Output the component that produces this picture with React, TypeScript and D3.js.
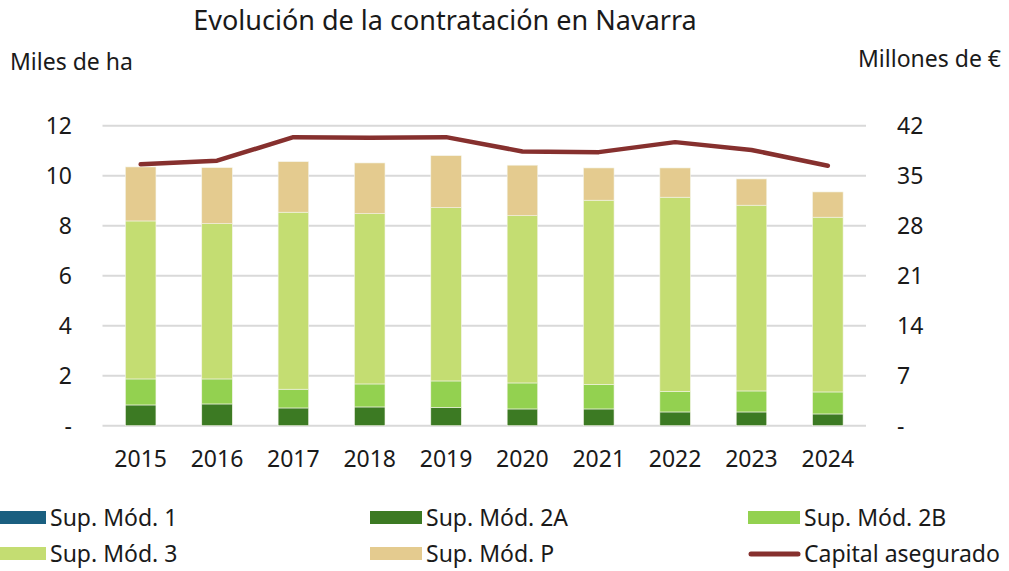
import React from 'react';
import * as d3 from 'd3';

const years = ['2015', '2016', '2017', '2018', '2019', '2020', '2021', '2022', '2023', '2024'];
// stacked values, miles de ha
const mod1 = [0, 0, 0, 0, 0, 0, 0, 0, 0, 0];
const mod2A = [0.83, 0.87, 0.71, 0.75, 0.73, 0.67, 0.67, 0.55, 0.55, 0.47];
const mod2B = [1.04, 1.0, 0.75, 0.92, 1.06, 1.04, 0.98, 0.82, 0.84, 0.88];
const mod3 = [6.32, 6.21, 7.08, 6.81, 6.93, 6.69, 7.37, 7.77, 7.43, 6.99];
const modP = [2.16, 2.24, 2.02, 2.03, 2.08, 2.02, 1.29, 1.17, 1.05, 1.01];
// millones de euros
const capital = [36.6, 37.1, 40.4, 40.3, 40.4, 38.4, 38.3, 39.7, 38.6, 36.4];

const leftTicks = [0, 2, 4, 6, 8, 10, 12];
const rightTicks = [0, 7, 14, 21, 28, 35, 42];

const seriesNames = ['Sup. Mód. 1', 'Sup. Mód. 2A', 'Sup. Mód. 2B', 'Sup. Mód. 3', 'Sup. Mód. P'];
const seriesKeys = ['m1', 'm2A', 'm2B', 'm3', 'mP'];
const colors = ['#1a5f80', '#3c7a23', '#93d150', '#c4dd72', '#e4cb8f'];
const lineColor = '#86302e';
const font = "'Noto Sans', sans-serif";

export default function App() {
  const width = 1009;
  const height = 571;
  const margin = { left: 102.5, right: 143, top: 125.7, bottom: 145.3 };

  const x = d3.scaleBand<string>()
    .domain(years)
    .range([margin.left, width - margin.right])
    .paddingInner(0.6)
    .paddingOuter(0.3);

  const y = d3.scaleLinear().domain([0, 12]).range([height - margin.bottom, margin.top]);
  const y2 = d3.scaleLinear().domain([0, 42]).range([height - margin.bottom, margin.top]);

  const rows = years.map((yr, i) => ({
    year: yr, m1: mod1[i], m2A: mod2A[i], m2B: mod2B[i], m3: mod3[i], mP: modP[i],
  }));
  const stacked = d3.stack<any>().keys(seriesKeys)(rows);

  const line = d3.line<number>()
    .x((_, i) => (x(years[i]) as number) + x.bandwidth() / 2)
    .y(d => y2(d));

  const fmt = (v: number) => (v === 0 ? '-' : String(v));

  const legend = [
    { name: seriesNames[0], color: colors[0], col: 0, row: 0 },
    { name: seriesNames[1], color: colors[1], col: 1, row: 0 },
    { name: seriesNames[2], color: colors[2], col: 2, row: 0 },
    { name: seriesNames[3], color: colors[3], col: 0, row: 1 },
    { name: seriesNames[4], color: colors[4], col: 1, row: 1 },
    { name: 'Capital asegurado', color: lineColor, col: 2, row: 1, isLine: true },
  ];
  const legendX = [-6, 370, 748];
  const legendY = [518, 554];
  const fs = 23;

  return (
    <svg width={width} height={height} style={{ position: 'absolute', left: 0, top: 0, background: '#fff' }}
      fontFamily={font}>
      <text x={445} y={30} textAnchor="middle" fontSize={27} fill="#1a1a1a">
        Evolución de la contratación en Navarra
      </text>
      <text x={10} y={70} fontSize={fs} fill="#1a1a1a">Miles de ha</text>
      <text x={1001} y={67} fontSize={fs} fill="#1a1a1a" textAnchor="end">Millones de €</text>

      {leftTicks.map(t => (
        <g key={t}>
          <line x1={margin.left} x2={width - margin.right} y1={y(t)} y2={y(t)}
            stroke="#d9d9d9" strokeWidth={2} />
          <text x={72} y={y(t)} dy="0.36em" textAnchor="end" fontSize={fs} fill="#1a1a1a">{fmt(t)}</text>
        </g>
      ))}
      {rightTicks.map(t => (
        <text key={t} x={897} y={y2(t)} dy="0.36em" fontSize={fs} fill="#1a1a1a">{fmt(t)}</text>
      ))}

      {stacked.map((s, si) => (
        <g key={s.key} fill={colors[si]}>
          {s.map((d, i) => (
            d[1] - d[0] > 0 ? (
              <rect key={i} x={x(years[i])} width={x.bandwidth()}
                y={y(d[1])} height={y(d[0]) - y(d[1])}
                stroke="#f4f4e8" strokeWidth={0.6} />
            ) : null
          ))}
        </g>
      ))}

      <path d={line(capital) || ''} fill="none" stroke={lineColor} strokeWidth={4.5}
        strokeLinecap="round" strokeLinejoin="round" />

      {years.map(yr => (
        <text key={yr} x={(x(yr) as number) + x.bandwidth() / 2} y={467} textAnchor="middle"
          fontSize={fs} fill="#1a1a1a">{yr}</text>
      ))}

      {legend.map(l => (
        <g key={l.name} transform={`translate(${legendX[l.col]},${legendY[l.row]})`}>
          {l.isLine
            ? <line x1={3} x2={50} y1={0} y2={0} stroke={l.color} strokeWidth={5} strokeLinecap="round" />
            : <rect x={0} y={-7} width={52} height={13} fill={l.color} />}
          <text x={56} y={0} dy="0.36em" fontSize={fs} fill="#1a1a1a">{l.name}</text>
        </g>
      ))}
    </svg>
  );
}
